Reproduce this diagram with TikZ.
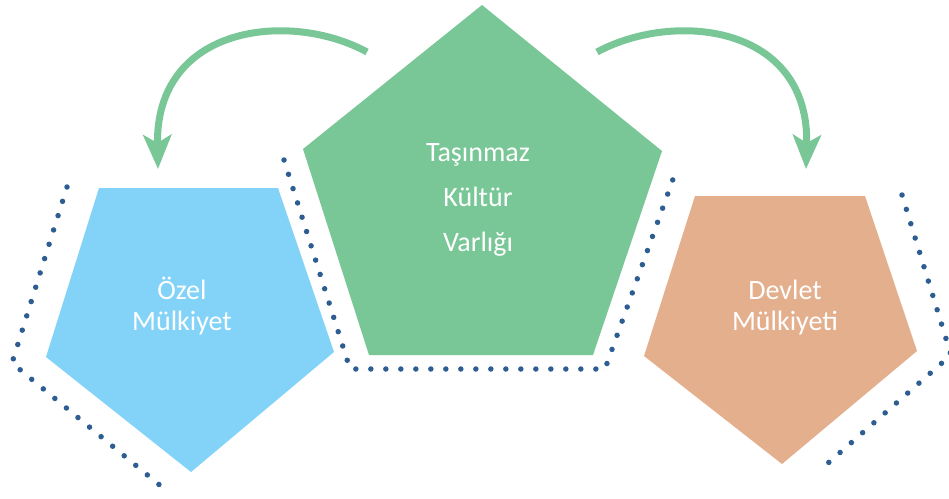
\documentclass[tikz,border=0pt]{standalone}
\usepackage{fontspec}
\setmainfont{Carlito}
\usetikzlibrary{arrows.meta}
\definecolor{yesil}{HTML}{79C797}
\definecolor{mavi}{HTML}{82D3F7}
\definecolor{turuncu}{HTML}{E3AF8D}
\definecolor{lacivert}{HTML}{2E5E91}

\begin{document}
\begin{tikzpicture}[x=1pt,y=-1pt,
  noktali/.style={lacivert,line width=5.5pt,line cap=round,dash pattern=on 0pt off 15pt},
  ok/.style={yesil,line width=7pt,-{Stealth[length=34pt,width=28pt,inset=8pt]}},
  yazi/.style={text=white,align=center,font=\fontsize{28}{31}\selectfont}]
\useasboundingbox (0,0) rectangle (949,498);

% pentagons
\fill[mavi] (99,188) -- (278,188) -- (334,352) -- (191,472) -- (46,357) -- cycle;
\fill[yesil] (482,5) -- (662,151) -- (593,355) -- (369,355) -- (303,149) -- cycle;
\fill[turuncu] (695,196) -- (865,196) -- (917,351) -- (782,464) -- (644,356) -- cycle;

% dotted outlines
\draw[noktali] (67,187) -- (12,363) -- (168,492);
\draw[noktali] (284,160) -- (350,369) -- (605,369) -- (677,168);
\draw[noktali] (902,195) -- (951,355) -- (819,471);

% texts
\node[yazi] (ozel) at (182,306) {Özel\\Mülkiyet};
\node[yazi,font=\fontsize{28}{45}\selectfont] (tasinmaz) at (478,200) {Taşınmaz\\Kültür\\Varlığı};
\node[yazi] (devlet) at (785,308) {Devlet\\Mülkiyeti};

% arrows
\coordinate (s1) at (367,52);
\coordinate (e1) at (158,169);
\coordinate (s2) at (597,52);
\coordinate (e2) at (806,169);
\draw[ok] (s1) .. controls (290,10) and (155,25) .. (e1);
\draw[ok] (s2) .. controls (675,10) and (810,25) .. (e2);
\end{tikzpicture}
\end{document}
